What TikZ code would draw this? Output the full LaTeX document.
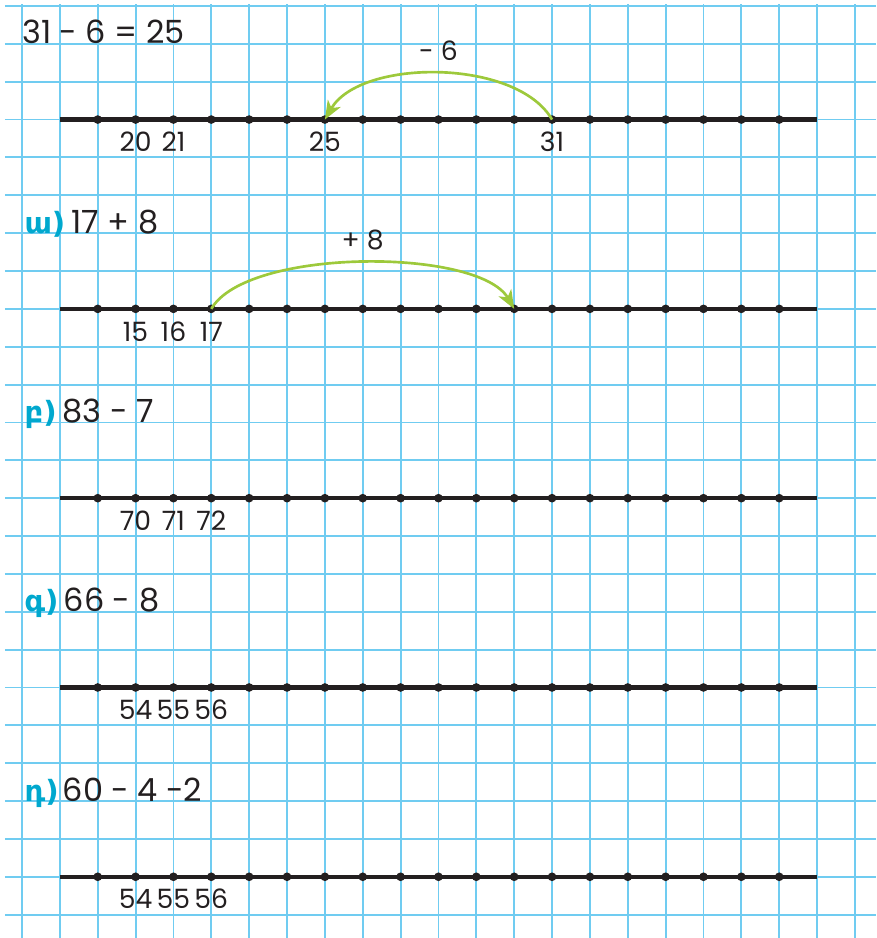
\documentclass[tikz,border=0pt]{standalone}
\usepackage{fontspec}
\setmainfont{Poppins}
\newfontfamily\armfont{DejaVu Sans}
\usetikzlibrary{arrows.meta}
\definecolor{gridblue}{RGB}{112,204,241}
\definecolor{jumpgreen}{RGB}{157,201,59}
\definecolor{lettercyan}{RGB}{0,168,206}
\definecolor{inkblack}{RGB}{35,31,32}

\begin{document}
\begin{tikzpicture}[>={Stealth[length=14pt,width=11pt,inset=4pt]},
  gridline/.style={gridblue,line width=1.4pt},
  numline/.style={inkblack,line width=3.3pt},
  tick/.style={circle,fill=inkblack,inner sep=0pt,minimum size=6.5pt},
  jump/.style={->,jumpgreen,line width=2pt},
  numlabel/.style={anchor=base,inner sep=0pt,text=inkblack,font=\fontsize{20}{20}\selectfont},
  task/.style={anchor=base west,inner sep=0pt,text=inkblack,font=\fontsize{24}{24}\selectfont},
  letter/.style={anchor=base west,inner sep=0pt,text=lettercyan,font=\armfont\bfseries\fontsize{22}{22}\selectfont}]
  \useasboundingbox (-0.581,0.158) rectangle (22.557,-24.617);
  \foreach \x in {0,...,22}
    \draw[gridline] (\x,0.05) -- (\x,-24.617);
  \foreach \y in {0,...,24}
    \draw[gridline] (-0.45,-\y) -- (22.557,-\y);
  \foreach \r/\y in {a/3,b/8,c/13,d/18,e/23}
  {
    \coordinate (\r1) at (1,-\y);
    \coordinate (\r21) at (21,-\y);
    \draw[numline] (\r1) -- (\r21);
    \foreach \k in {2,...,20}
      \node[tick] (\r\k) at (\k,-\y) {};
  }
  \foreach \r/\k/\n in {a/3/20,a/4/21,a/8/25,a/14/31,
                        b/3/15,b/4/16,b/5/17,
                        c/3/70,c/4/71,c/5/72,
                        d/3/54,d/4/55,d/5/56,
                        e/3/54,e/4/55,e/5/56}
    \node[numlabel] (n\r\k) at ([yshift=-0.85cm]\r\k) {\n};
  \node[task] (ta) at (0,-1) {31 - 6 = 25};
  \foreach \r/\y/\l/\t/\s in {b/6/ա/17 + 8/1.3,c/11/բ/83 - 7/1.07,d/16/գ/66 - 8/1.1,e/21/դ/60 - 4 -2/1.07}
  {
    \node[letter] (l\r) at (0.06,-\y) {\l)};
    \node[task] (t\r) at (\s,-\y) {\t};
  }
  \draw[jump] (a14.center) to[out=120,in=60,looseness=0.8]
    node[pos=0.5,anchor=base,yshift=0.35cm,inner sep=0pt,text=inkblack,font=\fontsize{20}{20}\selectfont] (ja) {- 6} (a8.center);
  \draw[jump] (b5.center) to[out=60,in=120,looseness=0.6]
    node[pos=0.5,anchor=base,yshift=0.35cm,inner sep=0pt,text=inkblack,font=\fontsize{20}{20}\selectfont] (jb) {+ 8} (b13.center);
\end{tikzpicture}
\end{document}
